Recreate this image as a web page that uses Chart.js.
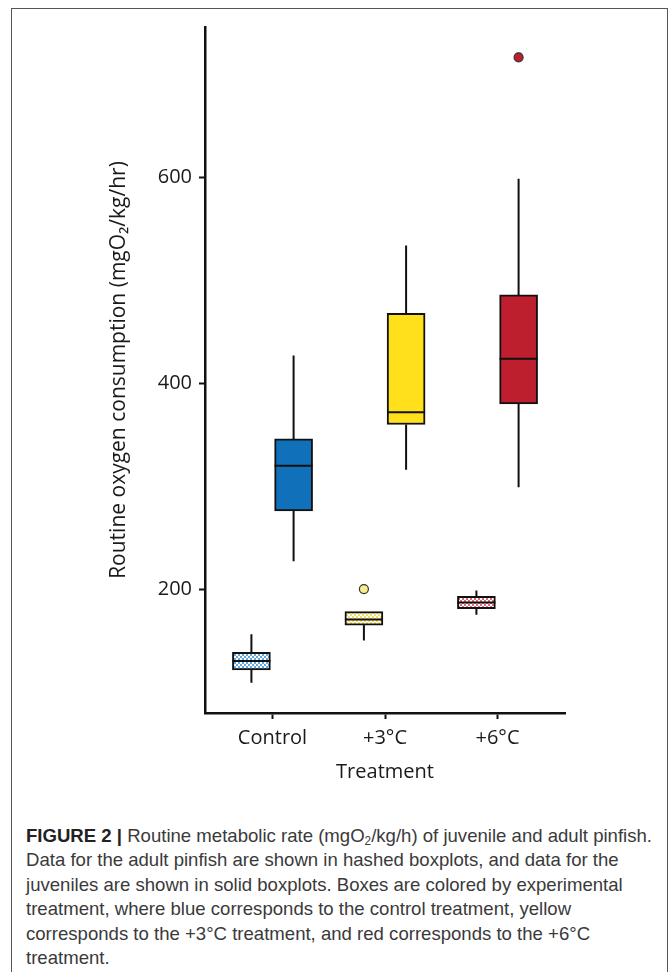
<!DOCTYPE html>
<html>
<head>
<meta charset="utf-8">
<script src="https://cdn.jsdelivr.net/npm/chart.js@4.4.1/dist/chart.umd.min.js"></script>
<style>
  html, body { margin: 0; padding: 0; background: #fff; }
  body { width: 671px; height: 972px; position: relative; overflow: hidden; }
  #frame { position: absolute; left: 11px; top: 8px; width: 657px; height: 1000px;
           border: 1px solid #555; border-bottom: none; box-sizing: border-box; }
  #wrap { position: absolute; left: 0; top: 0; width: 671px; height: 800px; }
  #caption { position: absolute; left: 26px; top: 824px; transform-origin: 0 0;
             font-family: "Liberation Sans Narrow", "Liberation Sans", Arial, sans-serif;
             font-size: 19px; line-height: 24.4px; color: #3a3a3a; white-space: nowrap; }
  #caption .ln { display: block; }
  #caption b { color: #222; }
  #caption sub { font-size: 12px; vertical-align: -3px; line-height: 0; }
</style>
</head>
<body>
<div id="frame"></div>
<div id="wrap"><canvas id="c" width="671" height="800"></canvas></div>
<div id="caption"><span class="ln" id="ln1"><b>FIGURE 2 |</b> Routine metabolic rate (mgO<sub>2</sub>/kg/h) of juvenile and adult pinfish.</span><span class="ln">Data for the adult pinfish are shown in hashed boxplots, and data for the</span><span class="ln">juveniles are shown in solid boxplots. Boxes are colored by experimental</span><span class="ln">treatment, where blue corresponds to the control treatment, yellow</span><span class="ln">corresponds to the +3°C treatment, and red corresponds to the +6°C</span><span class="ln">treatment.</span></div>
<script>
// ---- data ----
const categories = ['Control', '+3°C', '+6°C'];
const yTicks = [200, 400, 600];
const yRange = [79.5, 746.5];

// juveniles (solid boxes)
const juvWhiskerLow  = [227, 316, 299];
const juvQ1          = [276, 360, 380];
const juvMedian      = [320, 372, 424];
const juvQ3          = [346, 468, 486];
const juvWhiskerHigh = [427, 534, 599];
const juvOutliers    = [[], [], [717]];

// adults (hashed boxes)
const adWhiskerLow  = [109, 150, 175];
const adQ1          = [121.5, 165, 181];
const adMedian      = [130, 170.5, 187];
const adQ3          = [138.5, 178, 193];
const adWhiskerHigh = [156, 178, 198.5];
const adOutliers    = [[], [200], []];

// ---- styles ----
const solidColors = ['#1070b9', '#ffe01a', '#bd1f2e'];
const hashColors  = ['#62a8df', '#f6df5e', '#e06a77'];
const outlierSolid = ['#1070b9', '#ffe01a', '#bd1f2e'];
const outlierHash  = ['#9fc8ec', '#f8ec8e', '#ef9ca5'];
const dodge = 0.1875;
const ink = '#111';

// caption: condense to match reference line width
(function () {
  const cap = document.getElementById('caption');
  const w = document.getElementById('ln1').getBoundingClientRect().width;
  const s = 626 / w;
  cap.style.transform = 'scaleX(' + s.toFixed(4) + ')';
})();

function makePattern(color) {
  const c = document.createElement('canvas');
  c.width = 4; c.height = 4;
  const g = c.getContext('2d');
  g.fillStyle = '#ffffff'; g.fillRect(0, 0, 4, 4);
  g.fillStyle = color;
  g.fillRect(0, 0, 2, 2);
  g.fillRect(2, 2, 2, 2);
  return g.createPattern(c, 'repeat');
}
const patterns = hashColors.map(makePattern);

const xJuv = categories.map((_, i) => i + 1 + dodge);
const xAd  = categories.map((_, i) => i + 1 - dodge);

const outlierPoints = [];
const outlierFill = [];
juvOutliers.forEach((arr, i) => arr.forEach(v => { outlierPoints.push({x: xJuv[i], y: v}); outlierFill.push(outlierSolid[i]); }));
adOutliers.forEach((arr, i) => arr.forEach(v => { outlierPoints.push({x: xAd[i], y: v}); outlierFill.push(outlierHash[i]); }));

const whiskerPlugin = {
  id: 'boxParts',
  beforeDatasetsDraw(chart) {
    const {ctx} = chart;
    const xs = chart.scales.x, ys = chart.scales.y;
    ctx.save();
    ctx.strokeStyle = ink; ctx.lineWidth = 2;
    const groups = [
      [xJuv, juvWhiskerLow, juvQ1, juvQ3, juvWhiskerHigh],
      [xAd, adWhiskerLow, adQ1, adQ3, adWhiskerHigh]
    ];
    groups.forEach(([xp, lo, q1, q3, hi]) => {
      xp.forEach((xv, i) => {
        const px = xs.getPixelForValue(xv);
        ctx.beginPath();
        ctx.moveTo(px, ys.getPixelForValue(lo[i]));
        ctx.lineTo(px, ys.getPixelForValue(q1[i]));
        ctx.moveTo(px, ys.getPixelForValue(q3[i]));
        ctx.lineTo(px, ys.getPixelForValue(hi[i]));
        ctx.stroke();
      });
    });
    ctx.restore();
  },
  afterDatasetsDraw(chart) {
    const {ctx} = chart;
    const ys = chart.scales.y;
    ctx.save();
    ctx.strokeStyle = ink; ctx.lineWidth = 2;
    [[0, juvMedian], [1, adMedian]].forEach(([di, med]) => {
      const meta = chart.getDatasetMeta(di);
      meta.data.forEach((bar, i) => {
        const py = ys.getPixelForValue(med[i]);
        ctx.beginPath();
        ctx.moveTo(bar.x - bar.width / 2, py);
        ctx.lineTo(bar.x + bar.width / 2, py);
        ctx.stroke();
      });
    });
    ctx.restore();
  }
};

const font = 'Open Sans';

new Chart(document.getElementById('c'), {
  type: 'bar',
  data: {
    datasets: [
      {
        label: 'Juveniles',
        data: xJuv.map((x, i) => ({x, y: [juvQ1[i], juvQ3[i]]})),
        backgroundColor: solidColors,
        borderColor: ink, borderWidth: 2, borderSkipped: false,
        barThickness: 38, grouped: false, order: 2
      },
      {
        label: 'Adults',
        data: xAd.map((x, i) => ({x, y: [adQ1[i], adQ3[i]]})),
        backgroundColor: patterns,
        borderColor: ink, borderWidth: 2, borderSkipped: false,
        barThickness: 38, grouped: false, order: 2
      },
      {
        type: 'scatter',
        label: 'Outliers',
        data: outlierPoints,
        pointRadius: 4.5, pointHoverRadius: 4.5,
        pointBackgroundColor: outlierFill,
        pointBorderColor: '#333', pointBorderWidth: 1.2, order: 1
      }
    ]
  },
  options: {
    responsive: false,
    animation: false,
    events: [],
    layout: { padding: { left: 0, top: 27, right: 106, bottom: 0 } },
    plugins: { legend: { display: false }, tooltip: { enabled: false } },
    scales: {
      x: {
        type: 'linear', min: 0.4, max: 3.6, offset: false,
        afterBuildTicks: s => { s.ticks = categories.map((_, i) => ({value: i + 1})); },
        afterFit: s => { s.height = 87; },
        ticks: { callback: (v) => categories[Math.round(v) - 1] || '', color: '#1a1a1a',
                 font: { family: font, size: 20 }, padding: 7, maxRotation: 0, autoSkip: false },
        grid: { display: true, drawOnChartArea: false, drawTicks: true, tickLength: 6,
                tickColor: ink, tickWidth: 2, offset: false },
        border: { display: true, color: ink, width: 2.5 },
        title: { display: true, text: 'Treatment', color: '#1a1a1a',
                 font: { family: font, size: 20 }, padding: { top: 0, bottom: 16 } }
      },
      y: {
        type: 'linear', min: yRange[0], max: yRange[1],
        afterBuildTicks: s => { s.ticks = yTicks.map(v => ({value: v})); },
        afterFit: s => { s.width = 205; },
        ticks: { color: '#1a1a1a', font: { family: font, size: 20 }, padding: 7 },
        grid: { display: true, drawOnChartArea: false, drawTicks: true, tickLength: 6,
                tickColor: ink, tickWidth: 2 },
        border: { display: true, color: ink, width: 2.5 },
        title: { display: true, text: 'Routine oxygen consumption (mgO₂/kg/hr)', color: '#1a1a1a',
                 font: { family: font, size: 21 }, padding: { top: 106, bottom: 0 } }
      }
    }
  },
  plugins: [whiskerPlugin]
});
</script>
</body>
</html>
